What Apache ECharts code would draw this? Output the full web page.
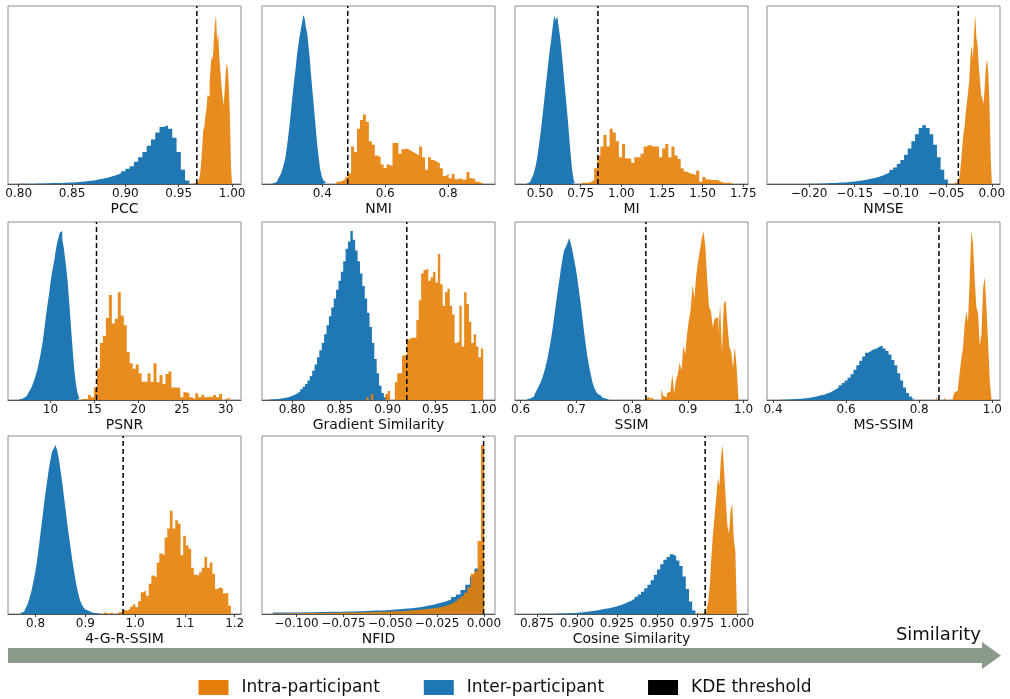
<!DOCTYPE html>
<html>
<head>
<meta charset="utf-8">
<script src="https://cdn.jsdelivr.net/npm/echarts@6.0.0/dist/echarts.min.js"></script>
<style>
  html, body { margin: 0; padding: 0; background: #fff; }
  #chart { width: 1010px; height: 699px; }
</style>
</head>
<body>
<div id="chart"></div>
<script>
// histogram bin heights (percent of panel height)
// each histogram: first bin edge, bin width, heights
const pccInterStart = 0.800, pccInterWidth = 0.004;
const pccInter = [0.1,0.1,0.2,0.2,0.3,0.3,0.4,0.5,0.5,0.6,0.7,0.8,0.9,1.1,1.3,1.5,1.8,2.1,2.6,3.1,3.7,4.3,5.0,6.0,7.2,8.5,10,12.5,15,18,21.5,25,29,32,33,31,26,18,8,2];
const pccIntraStart = 0.958, pccIntraWidth = 0.001;
const pccIntra = [0.3,0,0.5,0,0.6,0.3,0.8,0.4,1.0,0.8,1.5,2.5,5,12,20,30,32,38,42,50,49,58,66,72,70,82,90,95,80,85,72,64,56,50,44,52,62,68,65,55,38,10];
const pccThreshold = 0.967;
const pccTicks = [0.80, 0.85, 0.90, 0.95, 1.00];

const nmiInterStart = 0.240, nmiInterWidth = 0.004;
const nmiInter = [0.2,0.5,0.8,1.3,2.0,3.0,4.2,5.5,7.5,10,12.5,16,21,27,33,40,47,54,60,66,73,78,83,87,91,95,93,88,85,78,71,62,54,46,38,30,22,16,10,6,3.5,2,1,0.4];
const nmiIntraStart = 0.4447, nmiIntraWidth = 0.0094;
const nmiIntra = [1.3,1.7,2.6,4,6,21,18,31,36,39,35,24,22,16,15,11,9,11,10,23,23,17,19.5,20,19,18,17,16,21,15,8,15,13.5,12.5,11.6,8.8,4.5,5.6,3.2,5.6,2.6,3.2,2.2,2.6,6.7,3.2,2.6,1.3,0.7,0,1.1];
const nmiThreshold = 0.481;
const nmiTicks = [0.4, 0.6, 0.8];

const miInterStart = 0.420, miInterWidth = 0.006;
const miInter = [0.3,0.6,1.0,1.6,2.3,3.3,4.6,6.2,8.2,10.5,13.5,17,21,25,29,34,39,44,49,54,59,64,69,74,78,82,87,91,95,92,93,94,90,86,82,77,71,65,59,53,47,41,35,28,21,15,9,5,2,0.5];
const miIntraStart = 0.757, miIntraWidth = 0.019;
const miIntra = [0.7,0.7,1.1,2.2,8.8,16,21,27.5,21,31,29,24,15,22.5,14.4,14,12,15,15,17,21,22,21,21,21,15,20,22.5,15,21,16,14,8.8,7,6,5.6,5,7.5,1.3,4,2.6,2.2,2.2,2.2,1.3,0.7,0.7,0.7,0,0.7];
const miThreshold = 0.856;
const miTicks = [0.50, 0.75, 1.00, 1.25, 1.50, 1.75];

const nmseInterStart = -0.200, nmseInterWidth = 0.004;
const nmseInter = [0.2,0.2,0.3,0.3,0.4,0.5,0.6,0.7,0.8,0.9,1.1,1.3,1.5,1.8,2.1,2.5,2.9,3.4,4.0,4.7,5.5,6.5,7.8,9.3,11.2,13.5,16.5,20,24,28,31.5,33,31.5,28,22,15,8,2.5];
const nmseIntraStart = -0.048, nmseIntraWidth = 0.0013;
const nmseIntra = [0.4,0,0.6,0,0.8,0.4,1.0,0.8,1.5,2,5,12,20,28,32,40,46,52,58,72,78,70,85,95,82,78,66,58,50,48,45,55,66,70,62,45,15];
const nmseThreshold = -0.0366;
const nmseTicks = [-0.20, -0.15, -0.10, -0.05, 0.00];

const psnrInterStart = 6.40, psnrInterWidth = 0.15;
const psnrInter = [0.3,0.5,0.8,1.2,1.6,2.2,3.0,3.8,5.0,6.3,8.0,10,12,14.5,17,20.5,24,28,32.5,38,44,50,55,60,66,71,75,79,84,88,91,94,95,90,86,80,74,67,57,47,37,27,18,11,6,3,1];
const psnrIntraStart = 13.6, psnrIntraWidth = 0.34;
const psnrIntra = [0.5,0.5,2.8,1.5,7,17.5,32,36,46,59,43,45.6,60.6,47.5,42,27,20.6,17.5,20,15,10.3,10.3,15,10.3,20.6,10,14,9,14.6,16,7,7,6.8,1.5,4.3,3.8,1.5,0.4,3.8,1.5,2.8,1.5,2,1.5,2.8,1.5,3.4,0,1.1,1.1];
const psnrThreshold = 15.25;
const psnrTicks = [10, 15, 20, 25, 30];

const gradInterStart = 0.776, gradInterWidth = 0.0025;
const gradInter = [0.3,0.4,0.5,0.6,0.8,1.0,1.3,1.6,2.0,2.5,3.1,3.9,4.8,6.0,7.4,9.0,11,13.5,16.5,20,24,28,32,37,42,47,52,57,62,67,72,78,85,89,95,90,84,78,71,64,57,49,41,32,23,15,8,4,1.5,0.5];
const gradIntraStart = 0.8775, gradIntraWidth = 0.0025;
const gradIntra = [1.5,0,3.4,0,0,0,0,0,3.4,5,0,0,10,15,15,25,25,34,35,35,35,45,56,71,73,74,67,69,72,66,82,65,53,60.6,62.5,53,48,32,33,53,30,60.6,54,44,32,37,30,24,29];
const gradThreshold = 0.920;
const gradTicks = [0.80, 0.85, 0.90, 0.95, 1.00];

const ssimInterStart = 0.612, ssimInterWidth = 0.003;
const ssimInter = [0.5,0.9,1.4,2.0,3.0,4.3,6.0,8.0,10,12.5,15.5,19,23,28,33,39,46,53,60,66,73,79,84,86,88,91,88,84,79,74,68,61,54,46,38,31,24,19,14,10,7,5,3.5,2.5,1.8,1.2,0.8,0.5,0.3,0.2];
const ssimIntraStart = 0.826, ssimIntraWidth = 0.0033;
const ssimIntra = [1.5,1.5,0,1.5,0,0,0,0,6.2,2.4,1.5,3.8,4.9,4.3,14.6,3.8,11.3,14.6,21,16.5,30.6,26,37,44.6,51,65,57,70,78,84,90.6,95,86,67,52,50,41,45.6,46.5,37,54,27,54,56,42,30,27,18,30,18];
const ssimThreshold = 0.8248;
const ssimTicks = [0.6, 0.7, 0.8, 0.9, 1.0];

const msInterStart = 0.420, msInterWidth = 0.008;
const msInter = [0.2,0.3,0.3,0.4,0.5,0.6,0.7,0.9,1.0,1.2,1.5,1.8,2.2,2.6,3.0,3.6,4.2,5.0,6.0,7.0,8.3,9.5,11,12.5,14.5,17,19.5,22,24.5,26.5,27.5,28.5,29,30,30.5,29,27.5,25.5,22.5,19.5,15,11,7,4,2,0.8];
const msIntraStart = 0.846, msIntraWidth = 0.0046;
const msIntra = [1.5,0,0,0,0,1.5,0,0,0,0,1.5,4.3,5.2,7,14.6,23,28.7,42,50,43.7,67,95,88,68,52,49,30.6,37,63,69,52,31.5,10];
const msThreshold = 0.854;
const msTicks = [0.4, 0.6, 0.8, 1.0];

const grInterStart = 0.770, grInterWidth = 0.0035;
const grInter = [0.5,1.2,2.2,3.5,5.5,8.5,12,16.5,21.5,27,34,42,50,58,66,73,80,86,91,93,95,92,87,80,73,65,57,49,42,35,28,22,16.5,12,8,5.5,3.8,2.6,1.8,1.3,0.9,0.6,0.5,0.4,0.3,0.2,0.2,0.1];
const grIntraStart = 0.9367, grIntraWidth = 0.00533;
const grIntra = [0.8,0,0.8,0,0,1.1,0.8,2.3,1.9,2.8,4.1,5.3,3.8,7.1,12.2,13.2,10.3,17,21.6,20.7,29,34,33,43,48,58,48,52.6,50.8,33,44,38.5,36.7,26,22,21.6,23.5,26,32,26,29,22.6,14,15,14,11.6,11.6,4.7];
const grThreshold = 0.976;
const grTicks = [0.8, 0.9, 1.0, 1.1, 1.2];

const nfidInterStart = -0.1125, nfidInterWidth = 0.0025;
const nfidInter = [0.8,0.8,0.8,0.9,0.9,0.9,1.0,1.0,1.0,1.1,1.1,1.2,1.2,1.3,1.3,1.4,1.4,1.5,1.6,1.7,1.8,1.9,2.0,2.1,2.3,2.5,2.7,2.9,3.1,3.4,3.7,4.1,4.6,5.1,5.7,6.4,7.2,8.2,9.5,11,13.5,16.5,21,25.5,27.5];
const nfidIntraStart = -0.1132, nfidIntraWidth = 0.0018;
const nfidIntra = [0.3,0.3,0.3,0.3,0.4,0.4,0.4,0.4,0.4,0.5,0.5,0.5,0.5,0.6,0.6,0.6,0.6,0.7,0.7,0.7,0.8,0.8,0.8,0.8,0.9,0.9,1.0,1.0,1.0,1.1,1.1,1.2,1.3,1.3,1.4,1.5,1.5,1.6,1.7,1.8,2.0,2.1,2.2,2.4,2.6,2.8,3.0,3.2,3.5,3.8,4.2,4.8,5.5,6.4,7.4,8.6,10,12,15,22.6,24,41,95];
const nfidThreshold = -0.0002;
const nfidTicks = [-0.100, -0.075, -0.050, -0.025, 0.000];

const cosInterStart = 0.876, cosInterWidth = 0.002;
const cosInter = [0.1,0.1,0.2,0.2,0.2,0.3,0.3,0.4,0.4,0.5,0.6,0.7,0.8,1.0,1.2,1.4,1.7,2.0,2.3,2.6,3.0,3.3,3.7,4.1,4.6,5.2,5.9,6.7,7.5,8.5,9.7,11,12.5,14.5,16.5,19,22,25,28,30.5,32,33.5,32.5,30,27,21,14,7,2];
const cosIntraStart = 0.975, cosIntraWidth = 0.001;
const cosIntra = [0.8,0,0.8,0.4,1.2,1.5,3,7,16,32,45,55,65,76,72,88,95,80,64,50,45,58,62,42,35];
const cosThreshold = 0.9801;
const cosTicks = [0.875, 0.900, 0.925, 0.950, 0.975, 1.000];

const interColor = '#1f77b4';
const intraColor = 'rgb(229,127,8)';
const font = 'DejaVu Sans';

// panel layout: name, x-range, decimals, inter, intra, threshold, ticks
const panels = [
  { name: 'PCC', min: 0.790, max: 1.0084, dec: 2, ticks: pccTicks, thr: pccThreshold,
    inter: [pccInterStart, pccInterWidth, pccInter], intra: [pccIntraStart, pccIntraWidth, pccIntra] },
  { name: 'NMI', min: 0.2085, max: 0.949, dec: 1, ticks: nmiTicks, thr: nmiThreshold,
    inter: [nmiInterStart, nmiInterWidth, nmiInter], intra: [nmiIntraStart, nmiIntraWidth, nmiIntra] },
  { name: 'MI', min: 0.346, max: 1.779, dec: 2, ticks: miTicks, thr: miThreshold,
    inter: [miInterStart, miInterWidth, miInter], intra: [miIntraStart, miIntraWidth, miIntra] },
  { name: 'NMSE', min: -0.246, max: 0.009, dec: 2, ticks: nmseTicks, thr: nmseThreshold,
    inter: [nmseInterStart, nmseInterWidth, nmseInter], intra: [nmseIntraStart, nmseIntraWidth, nmseIntra] },
  { name: 'PSNR', min: 5.15, max: 31.74, dec: 0, ticks: psnrTicks, thr: psnrThreshold,
    inter: [psnrInterStart, psnrInterWidth, psnrInter], intra: [psnrIntraStart, psnrIntraWidth, psnrIntra] },
  { name: 'Gradient Similarity', min: 0.7685, max: 1.0123, dec: 2, ticks: gradTicks, thr: gradThreshold,
    inter: [gradInterStart, gradInterWidth, gradInter], intra: [gradIntraStart, gradIntraWidth, gradIntra] },
  { name: 'SSIM', min: 0.590, max: 1.008, dec: 1, ticks: ssimTicks, thr: ssimThreshold,
    inter: [ssimInterStart, ssimInterWidth, ssimInter], intra: [ssimIntraStart, ssimIntraWidth, ssimIntra] },
  { name: 'MS-SSIM', min: 0.3836, max: 1.021, dec: 1, ticks: msTicks, thr: msThreshold,
    inter: [msInterStart, msInterWidth, msInter], intra: [msIntraStart, msIntraWidth, msIntra] },
  { name: '4-G-R-SSIM', min: 0.7447, max: 1.2127, dec: 1, ticks: grTicks, thr: grThreshold,
    inter: [grInterStart, grInterWidth, grInter], intra: [grIntraStart, grIntraWidth, grIntra] },
  { name: 'NFID', min: -0.1184, max: 0.0059, dec: 3, ticks: nfidTicks, thr: nfidThreshold,
    inter: [nfidInterStart, nfidInterWidth, nfidInter], intra: [nfidIntraStart, nfidIntraWidth, nfidIntra] },
  { name: 'Cosine Similarity', min: 0.8612, max: 1.0069, dec: 3, ticks: cosTicks, thr: cosThreshold,
    inter: [cosInterStart, cosInterWidth, cosInter], intra: [cosIntraStart, cosIntraWidth, cosIntra] }
];

const colLeft = [8, 262, 515, 767];
const rowTop = [6, 222, 436];

// bins -> step points (x = left edge of each bin, closing edge at the end)
function steps(h) {
  var start = h[0], width = h[1], counts = h[2];
  var pts = counts.map(function (c, i) { return [start + i * width, c]; });
  pts.push([start + counts.length * width, 0]);
  return pts;
}

function tickText(dec) {
  return function (v) {
    var s = Math.abs(v).toFixed(dec);
    return (v < -1e-9 ? '\u2212' : '') + s;
  };
}

var grids = [], xAxes = [], yAxes = [], series = [];
panels.forEach(function (p, i) {
  grids.push({
    left: colLeft[i % 4], top: rowTop[Math.floor(i / 4)], width: 233, height: 178,
    show: true, borderColor: '#8c8c8c', borderWidth: 1, backgroundColor: '#fff',
    containLabel: false, outerBoundsMode: 'none'
  });
  xAxes.push({
    gridIndex: i, type: 'value', min: p.min, max: p.max,
    name: p.name, nameLocation: 'middle', nameGap: 18,
    nameTextStyle: { fontSize: 14, color: '#111', fontFamily: font },
    splitLine: { show: false },
    axisLine: { show: true, onZero: false, lineStyle: { color: '#555', width: 1 } },
    axisTick: { show: true, length: 3, customValues: p.ticks, lineStyle: { color: '#444' } },
    axisLabel: {
      customValues: p.ticks, formatter: tickText(p.dec), margin: 4,
      fontSize: 12, color: '#111', fontFamily: font, hideOverlap: false
    }
  });
  yAxes.push({ gridIndex: i, type: 'value', min: 0, max: 100, show: false, splitLine: { show: false } });

  series.push({
    name: 'Inter-participant', type: 'line', step: 'end', xAxisIndex: i, yAxisIndex: i,
    data: steps(p.inter), symbol: 'none', silent: true, animation: false,
    lineStyle: { width: 0, opacity: 0 }, itemStyle: { color: interColor },
    areaStyle: { color: interColor, opacity: 1 }, z: 2
  });
  series.push({
    name: 'Intra-participant', type: 'line', step: 'end', xAxisIndex: i, yAxisIndex: i,
    data: steps(p.intra), symbol: 'none', silent: true, animation: false,
    lineStyle: { width: 0, opacity: 0 }, itemStyle: { color: intraColor },
    areaStyle: { color: intraColor, opacity: 0.9 }, z: 3
  });
  series.push({
    name: 'KDE threshold', type: 'line', xAxisIndex: i, yAxisIndex: i,
    data: [[p.thr, 0], [p.thr, 100]], symbol: 'none', silent: true, animation: false,
    lineStyle: { color: '#000', width: 1.5, type: [5, 3] }, itemStyle: { color: '#000' }, z: 5
  });
});

var chart = echarts.init(document.getElementById('chart'), null, { renderer: 'canvas' });
chart.setOption({
  animation: false,
  backgroundColor: '#fff',
  textStyle: { fontFamily: font },
  grid: grids,
  xAxis: xAxes,
  yAxis: yAxes,
  series: series,
  legend: {
    data: ['Intra-participant', 'Inter-participant', 'KDE threshold'],
    left: 'center', top: 674, icon: 'rect', itemWidth: 30, itemHeight: 15, itemGap: 44,
    selectedMode: false,
    textStyle: { fontSize: 17, color: '#111', fontFamily: font, padding: [0, 0, 0, 8] }
  },
  graphic: [
    {
      type: 'polygon', silent: true,
      shape: { points: [[8, 648], [982, 648], [982, 642], [1001, 655.5], [982, 669], [982, 663], [8, 663]] },
      style: { fill: '#8b9b8b' }
    },
    {
      type: 'text', right: 29, top: 626, silent: true,
      style: { text: 'Similarity', font: '18px "DejaVu Sans"', fill: '#111' }
    }
  ]
});
</script>
</body>
</html>
